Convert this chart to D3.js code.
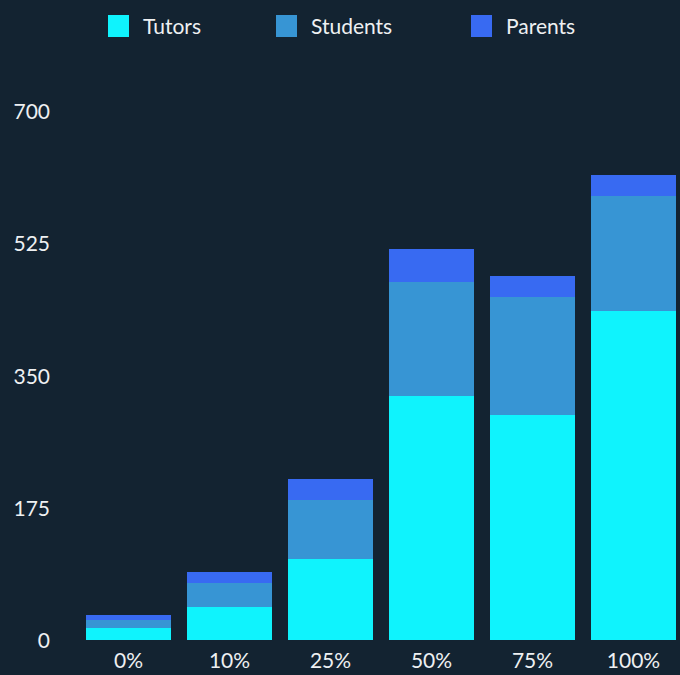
<!DOCTYPE html>
<html><head><meta charset="utf-8">
<script src="https://cdn.jsdelivr.net/npm/d3@7"></script>
<style>html,body{margin:0;padding:0;background:#132331;}svg{display:block;}</style>
</head><body>
<script>
const categories = ["0%", "10%", "25%", "50%", "75%", "100%"];
const seriesNames = ["Tutors", "Students", "Parents"];
const tutors = [16, 44, 107, 323, 298, 435];
const students = [10, 31, 78, 151, 156, 152];
const parents = [7, 15, 28, 44, 28, 28];
const yTicks = [0, 175, 350, 525, 700];
const colors = ["#0ff3fd", "#3795d4", "#386af2"];

const W = 680, H = 675;
const svg = d3.select("body").append("svg").attr("width", W).attr("height", H);
svg.append("rect").attr("width", W).attr("height", H).attr("fill", "#132331");

const rows = categories.map((c, i) => ({cat: c, Tutors: tutors[i], Students: students[i], Parents: parents[i]}));
const stack = d3.stack().keys(seriesNames)(rows);

const x = d3.scaleBand().domain(categories).range([78, 684]).paddingInner(0.165).paddingOuter(0.0825);
const y = d3.scaleLinear().domain([0, 700]).range([640, 111]);

const font = "Lato, 'Noto Sans', sans-serif";
const txt = "#eef0f2";

// y axis labels
const yAxis = d3.axisLeft(y).tickValues(yTicks).tickSize(0).tickPadding(0);
const gy = svg.append("g").attr("transform", "translate(50,0)").call(yAxis);
gy.select(".domain").remove();
gy.selectAll("text").attr("fill", txt).style("font-family", font).style("font-size", "21px").attr("dy", "0.36em");

// x axis labels
const xAxis = d3.axisBottom(x).tickSize(0).tickPadding(0);
const gx = svg.append("g").attr("transform", "translate(0,651)").call(xAxis);
gx.select(".domain").remove();
gx.selectAll("text").attr("fill", txt).style("font-family", font).style("font-size", "21px").attr("dy", "0.8em");

// bars
svg.append("g").attr("shape-rendering", "crispEdges").selectAll("g").data(stack).join("g")
  .attr("fill", (d, i) => colors[i])
  .selectAll("rect").data(d => d).join("rect")
  .attr("x", d => x(d.data.cat))
  .attr("width", x.bandwidth())
  .attr("y", d => y(d[1]))
  .attr("height", d => y(d[0]) - y(d[1]));

// legend
const legX = [108, 276, 471];
const leg = svg.append("g");
seriesNames.forEach((s, i) => {
  leg.append("rect").attr("x", legX[i]).attr("y", 15).attr("width", 21).attr("height", 22).attr("fill", colors[i]);
  leg.append("text").attr("x", legX[i] + 35).attr("y", 34).text(s)
    .attr("fill", txt).style("font-family", font).style("font-size", "21px");
});
</script>
</body></html>
